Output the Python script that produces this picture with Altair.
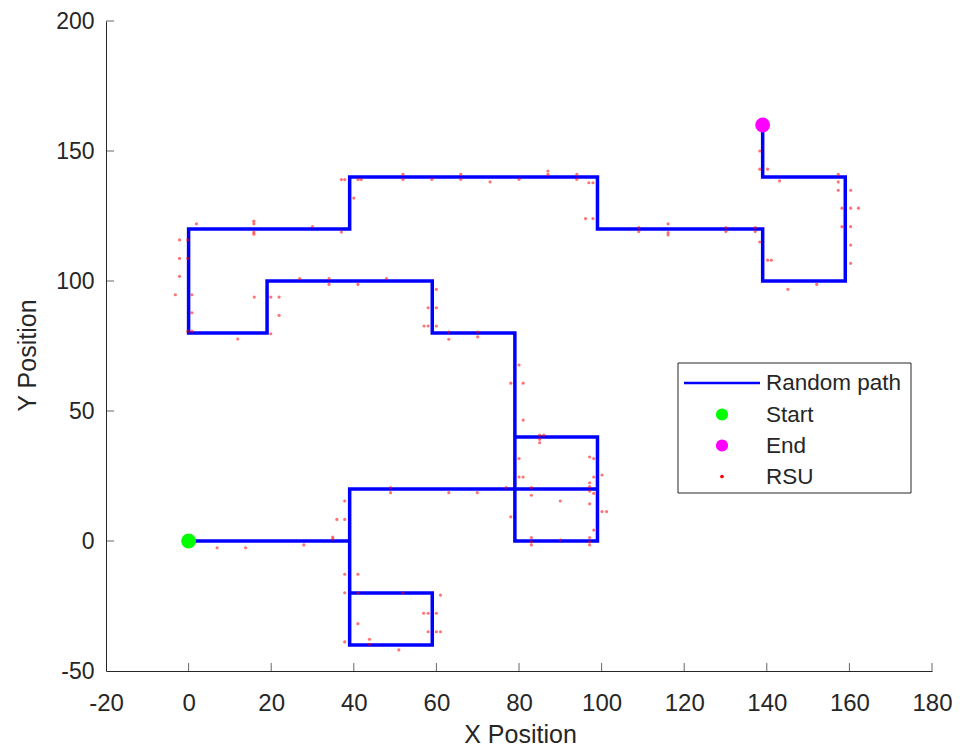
import altair as alt
import pandas as pd

# ---------------- data ----------------
path_x = [0, 39, 39, 59, 59, 39, 39, 99, 99, 79, 79, 99, 99, 79, 79, 59, 59, 19, 19, 0, 0,
          39, 39, 99, 99, 139, 139, 159, 159, 139, 139]
path_y = [0, 0, -40, -40, -20, -20, 20, 20, 40, 40, 0, 0, 20, 20, 80, 80, 100, 100, 80, 80, 120,
          120, 140, 140, 120, 120, 100, 100, 140, 140, 160]

rsu_x = [37.0, 37.8, 41.0, 41.8, 40.0, 1.9, 15.8, 15.8, 15.8, 15.8, 30.0, 37.0, -2.2, -0.2, -2.2,
         -0.2, -2.2, -3.2, 0.8, 0.8, -0.2, 0.8, 11.9, 15.9, 19.9, 21.9, 21.9, 19.9, 26.9, 34.0,
         34.0, 41.0, 51.9, 51.9, 58.9, 65.9, 65.9, 73.0, 80.0, 87.0, 87.0, 94.0, 94.0, 96.9, 97.9,
         96.1, 97.9, 138.3, 138.3, 140.2, 143.1, 157.3, 157.3, 157.3, 160.3, 158.2, 160.3, 162.2,
         158.2, 160.3, 160.3, 160.3, 145.1, 152.1, 138.3, 140.2, 141.1, 137.2, 137.2, 130.1, 130.1,
         116.1, 116.1, 116.1, 109.0, 109.0, 47.9, 60.0, 58.0, 60.0, 57.0, 58.0, 60.0, 63.0, 63.0,
         70.0, 70.0, 80.0, 78.0, 81.0, 81.0, 85.0, 86.0, 85.0, 85.0, 80.0, 80.0, 81.0, 76.9, 83.0,
         83.0, 90.0, 97.1, 98.1, 98.1, 100.1, 97.1, 97.1, 97.1, 98.1, 97.1, 100.1, 101.2, 98.1,
         78.0, 83.0, 83.0, 83.0, 90.0, 97.1, 97.1, 97.1, 6.9, 13.8, 27.9, 34.9, 34.9, 48.9, 48.9,
         63.0, 37.8, 35.9, 37.8, 37.8, 41.0, 37.8, 41.0, 51.9, 61.0, 56.9, 58.0, 60.0, 58.0, 60.0,
         61.0, 41.0, 43.8, 43.8, 50.9, 37.8, 69.9]
rsu_y = [139.0, 139.0, 139.0, 139.0, 131.9, 122.0, 123.0, 122.0, 118.8, 118.0, 120.9, 118.8, 115.8,
         115.8, 108.7, 108.7, 101.8, 94.7, 94.7, 87.8, 80.7, 80.7, 77.7, 93.8, 93.8, 93.8, 86.8,
         79.7, 100.9, 100.9, 98.7, 98.7, 141.0, 139.1, 139.1, 141.0, 139.1, 138.1, 139.1, 142.3,
         141.0, 141.0, 139.1, 137.8, 137.8, 124.0, 124.0, 150.0, 143.0, 143.0, 138.5, 141.0, 138.1,
         134.9, 134.9, 128.0, 128.0, 128.0, 120.9, 120.9, 113.8, 106.8, 96.8, 98.7, 115.0, 108.0,
         108.0, 120.5, 119.0, 120.5, 119.0, 122.0, 118.6, 117.7, 120.5, 119.0, 100.9, 96.8, 89.7,
         89.7, 82.7, 82.7, 82.7, 80.4, 77.6, 80.4, 78.5, 67.7, 60.7, 60.7, 46.5, 40.7, 40.7, 39.1,
         37.8, 31.7, 24.6, 24.6, 20.5, 20.5, 17.6, 15.4, 32.3, 31.7, 24.6, 25.4, 22.4, 20.9, 19.2,
         18.3, 14.3, 11.3, 11.3, 4.2, 9.3, 1.3, -0.3, -1.5, 0.4, 1.3, -0.3, -1.5, -2.6, -2.6, -1.5,
         1.5, 0.7, 20.5, 18.6, 18.6, 15.4, 8.3, 8.3, -12.8, -12.8, -19.9, -19.9, -19.9, -20.8,
         -27.8, -27.8, -27.8, -34.9, -34.9, -34.9, -31.8, -37.8, -39.7, -41.9, -38.8, 18.6]

x_ticks = [-20, 0, 20, 40, 60, 80, 100, 120, 140, 160, 180]
y_ticks = [-50, 0, 50, 100, 150, 200]
legend_labels = ["Random path", "Start", "End", "RSU"]

# ---------------- styling ----------------
W, H = 826, 650
FONT = "Liberation Sans"
AX = "#262626"
LBL = "replace(datum.label, '\u2212', '-')"

path_df = pd.DataFrame({"x": path_x, "y": path_y, "i": list(range(len(path_x)))})
rsu_df = pd.DataFrame({"x": rsu_x, "y": rsu_y})
start_df = pd.DataFrame({"x": [path_x[0]], "y": [path_y[0]]})
end_df = pd.DataFrame({"x": [path_x[-1]], "y": [path_y[-1]]})
xt_df = pd.DataFrame({"x": x_ticks[1:]})
yt_df = pd.DataFrame({"y": y_ticks[1:]})

xs = alt.Scale(domain=[-20, 180], nice=False, zero=False)
ys = alt.Scale(domain=[-50, 200], nice=False, zero=False)

xaxis = alt.Axis(values=x_ticks, tickSize=0, grid=False, domainColor=AX, labelColor=AX,
                 labelFont=FONT, labelFontSize=24, labelPadding=20, labelFlush=False,
                 labelExpr=LBL,
                 title="X Position", titleFont=FONT, titleFontSize=25, titleFontWeight="normal",
                 titleColor=AX, titleX=414, titleY=63, titleBaseline="middle", titleAlign="center")
yaxis = alt.Axis(values=y_ticks, tickSize=0, grid=False, domainColor=AX, labelColor=AX,
                 labelFont=FONT, labelFontSize=23, labelPadding=12, labelFlush=False,
                 labelExpr=LBL,
                 title="Y Position", titleFont=FONT, titleFontSize=25, titleFontWeight="normal",
                 titleColor=AX, titleX=-79, titleY=334, titleBaseline="middle", titleAlign="center",
                 titleAngle=-90)

X = alt.X("x:Q", scale=xs, axis=xaxis)
Y = alt.Y("y:Q", scale=ys, axis=yaxis)

path = alt.Chart(path_df).mark_line(color="#0000ff", strokeWidth=3.5, strokeJoin="miter").encode(
    x=X, y=Y, order="i:Q")
rsu = alt.Chart(rsu_df).mark_circle(color="#ff0000", size=10, opacity=0.55).encode(x=X, y=Y)
start = alt.Chart(start_df).mark_circle(color="#00ff00", size=220, opacity=1).encode(x=X, y=Y)
end = alt.Chart(end_df).mark_circle(color="#ff00ff", size=220, opacity=1).encode(x=X, y=Y)

xt = alt.Chart(xt_df).mark_tick(color=AX, thickness=1, size=8).encode(x=X, y=alt.value(H - 4))
yt = alt.Chart(yt_df).mark_tick(color=AX, thickness=1, size=8).encode(y=Y, x=alt.value(4))

# ---------------- legend ----------------
leg_rows = [362, 393.5, 424.5, 455.5]
one = pd.DataFrame({"k": [0]})
box = alt.Chart(one).mark_rect(fill="white", stroke=AX, strokeWidth=1).encode(
    x=alt.value(572), x2=alt.value(805), y=alt.value(342), y2=alt.value(472))
leg_line = alt.Chart(one).mark_rule(color="#0000ff", strokeWidth=2.5).encode(
    x=alt.value(578), x2=alt.value(654), y=alt.value(leg_rows[0]))
leg_start = alt.Chart(one).mark_circle(color="#00ff00", size=150, opacity=1).encode(
    x=alt.value(616), y=alt.value(leg_rows[1]))
leg_end = alt.Chart(one).mark_circle(color="#ff00ff", size=150, opacity=1).encode(
    x=alt.value(616), y=alt.value(leg_rows[2]))
leg_rsu = alt.Chart(one).mark_circle(color="#ff0000", size=14, opacity=1).encode(
    x=alt.value(616), y=alt.value(leg_rows[3]))
leg_texts = []
for lab, yy in zip(legend_labels, leg_rows):
    leg_texts.append(
        alt.Chart(pd.DataFrame({"lab": [lab]})).mark_text(
            align="left", baseline="middle", font=FONT, fontSize=22.5, color=AX
        ).encode(x=alt.value(660), y=alt.value(yy), text="lab:N")
    )

chart = alt.layer(path, rsu, start, end, xt, yt, box, leg_line, leg_start, leg_end, leg_rsu,
                  *leg_texts).properties(
    width=W, height=H, autosize="none", background="white",
    padding={"left": 98, "top": 13, "right": 20, "bottom": 75},
).configure_view(stroke=None)

chart.save("out.html", embed_options={"renderer": "svg", "actions": False})
